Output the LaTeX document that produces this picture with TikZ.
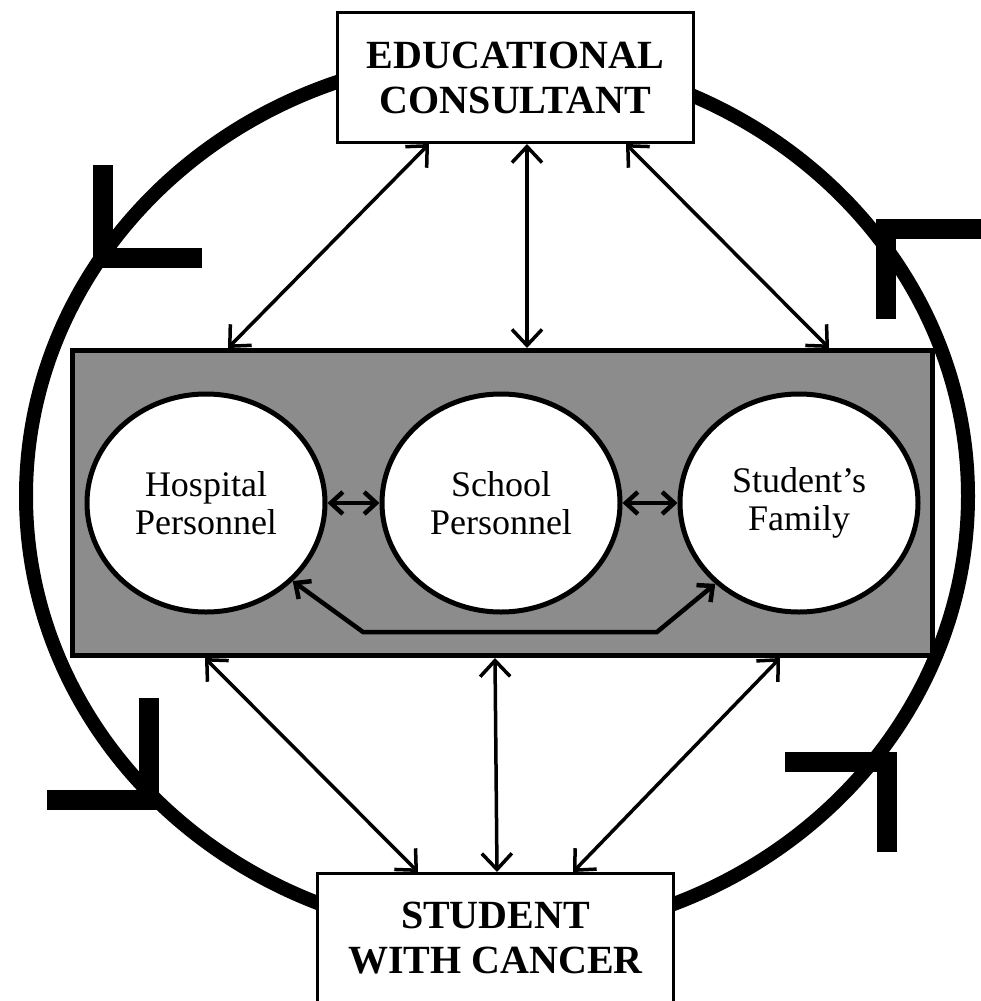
\documentclass[tikz,border=0pt]{standalone}
\usepackage{fontspec}
\setmainfont{Liberation Serif}
\usetikzlibrary{positioning, shapes.geometric, arrows.meta}

\begin{document}
\begin{tikzpicture}[x=1pt, y=-1pt,
		box/.style={draw, fill=white, line width=3pt, minimum width=356pt, minimum height=130pt, align=center, font=\fontsize{40}{45}\selectfont\bfseries},
		party/.style={ellipse, draw, fill=white, line width=5pt, minimum width=238pt, minimum height=218pt, inner sep=0pt, align=center, font=\fontsize{36}{38}\selectfont},
		link/.style={line width=3.5pt, {Straight Barb[length=16pt,width=30pt]}-{Straight Barb[length=16pt,width=30pt]}},
		near/.style={line width=4.5pt, {Straight Barb[length=12pt,width=22pt]}-{Straight Barb[length=12pt,width=22pt]}},
		cyclebar/.style={line width=20pt, line join=miter}]
		\useasboundingbox (0,0) rectangle (981,1001);
		
		\draw[line width=14pt] (497,496) ellipse [x radius=471, y radius=440];
		\draw[cyclebar] (103,165) -- (103,258) -- (202,258);
		\draw[cyclebar] (149,698) -- (149,800) -- (47,800);
		\draw[cyclebar] (785,762) -- (887,762) -- (887,852);
		\draw[cyclebar] (995,229) -- (886,229) -- (886,319);
		
		\node[box] (edu) at (515.5,77.5) {EDUCATIONAL\\CONSULTANT};
		\node[box] (stu) at (495.5,938.5) {STUDENT\\WITH CANCER};
		\node[draw, fill=black!45, line width=5pt, minimum width=860pt, minimum height=305pt] (team) at (502.5,503) {};
		\node[party] (school) at (501,503) {School\\Personnel};
		\node[party, left=52pt of school] (hosp) {Hospital\\Personnel};
		\node[party, right=55pt of school] (fam) {Student's\\Family};
		\coordinate (bendL) at (363,632);
		\coordinate (bendR) at (657,632);
		
		\path[link]
		([xshift=93pt]edu.south west) edge ([xshift=158pt]team.north west)
		([xshift=191pt]edu.south west) edge ([xshift=457pt]team.north west)
		([xshift=290pt]edu.south west) edge ([xshift=759pt]team.north west)
		([xshift=135pt]team.south west) edge ([xshift=102pt]stu.north west)
		([xshift=425pt]team.south west) edge ([xshift=181pt]stu.north west)
		([xshift=710pt]team.south west) edge ([xshift=257pt]stu.north west);
		
		\path[near]
		(hosp) edge (school)
		(school) edge (fam);
		\draw[near] (hosp.-42) -- (bendL) -- (bendR) -- (fam.-136);
	\end{tikzpicture}
\end{document}
